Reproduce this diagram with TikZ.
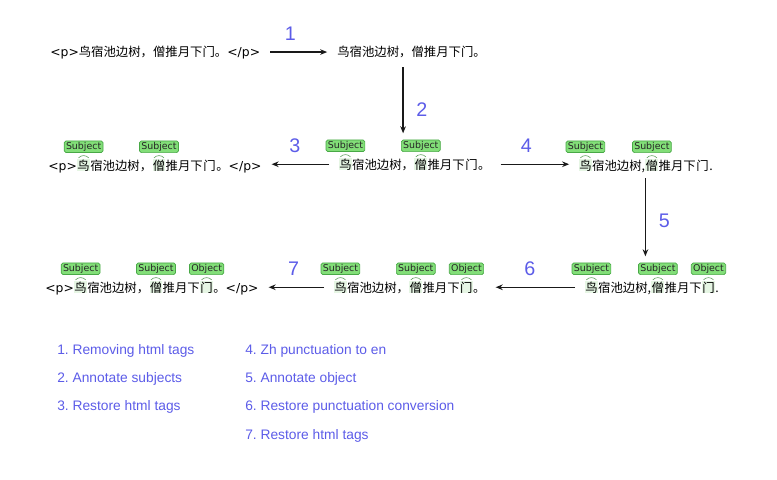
\documentclass[tikz,border=0pt]{standalone}
\usepackage{fontspec}
\setmainfont{Liberation Sans}
\newfontfamily\cjk{Noto Sans CJK SC}
\newfontfamily\lat{DejaVu Sans}
\usetikzlibrary{positioning,backgrounds,arrows.meta}
\frenchspacing

\definecolor{stepblue}{RGB}{92,92,232}
\definecolor{tagfill}{RGB}{130,222,120}
\definecolor{tagline}{RGB}{72,168,70}
\definecolor{marklight}{RGB}{230,246,228}

\tikzset{
  line/.style={inner sep=0pt, anchor=base west, font=\fontsize{8.8}{10}\cjk},
  tagbox/.style={draw=tagline, fill=tagfill, rounded corners=1.2pt, line width=0.5pt,
    inner xsep=1.3pt, inner ysep=0.9pt, text=black!85, font=\fontsize{6.7}{7}\lat},
  tagarc/.style={draw=tagline!70!gray, line width=0.4pt},
  arr/.style={-{Stealth[length=5pt,width=4pt]}, line width=1pt, black!90,
    shorten <=7pt, shorten >=7pt},
  stepnum/.style={inner sep=0pt, text=stepblue, font=\fontsize{14}{14}\selectfont},
  legend/.style={inner sep=0pt, anchor=west, text=stepblue, font=\fontsize{9.8}{12}\selectfont}
}

% one sentence, cut so that tags can sit on single characters
\newcommand\poemline[5]{%
  \node[line] (#1-a) at (#2) {#3};
  \node[line] (#1-s1) at (#1-a.base east) {鸟};
  \node[line] (#1-b) at (#1-s1.base east) {宿池边树#4};
  \node[line] (#1-s2) at (#1-b.base east) {僧};
  \node[line] (#1-c) at (#1-s2.base east) {推月下};
  \node[line] (#1-o) at (#1-c.base east) {门};
  \node[line] (#1-z) at (#1-o.base east) {#5};
}
% tag over one character
\newcommand\anno[2]{%
  \begin{pgfonlayer}{background}
    \fill[marklight] (#1.south west) rectangle (#1.north east);
  \end{pgfonlayer}
  \draw[tagarc] ([xshift=1pt,yshift=1pt]#1.north west) to[bend left=50] ([xshift=-1pt,yshift=1pt]#1.north east);
  \node[tagbox, above=4.5pt of #1] (#1-tag) {#2};
}

\begin{document}
\begin{tikzpicture}[x=0.025cm, y=-0.025cm]
  \useasboundingbox (0,0) rectangle (777,480);

  % first row
  \node[line] (a1) at (50,56) {{\lat <p>}鸟宿池边树，僧推月下门。{\lat </p>}};
  \node[line] (b1) at (337,56) {鸟宿池边树，僧推月下门。};
  \draw[arr] (a1.east) -- node[stepnum, above=8pt, xshift=-6pt] (n1) {1} (a1.east -| b1.west);

  % second row
  \poemline{a2}{48,170}{{\lat <p>}}{，}{。{\lat </p>}}
  \poemline{b2}{337,169}{}{，}{。}
  \poemline{c2}{577,170}{}{,}{.}
  \anno{a2-s1}{Subject}
  \anno{a2-s2}{Subject}
  \anno{b2-s1}{Subject}
  \anno{b2-s2}{Subject}
  \anno{c2-s1}{Subject}
  \anno{c2-s2}{Subject}

  \coordinate (t2) at ([xshift=-6pt]b1.south);
  \draw[arr, shorten >=4.5pt] (t2) -- node[stepnum, right=9pt, pos=0.64] (n2) {2} (t2 |- b2-s2-tag.north);
  \draw[arr] (b2-s1.west) -- node[stepnum, above=8pt, xshift=-4pt] (n3) {3} (b2-s1.west -| a2-z.east);
  \draw[arr] (b2-z.east |- b2-s1.west) -- node[stepnum, above=8pt, xshift=-6pt] (n4) {4} (c2-s1.west |- b2-s1.west);

  % third row
  \poemline{a3}{45,292}{{\lat <p>}}{，}{。{\lat </p>}}
  \poemline{b3}{332,292}{}{，}{。}
  \poemline{c3}{583,292}{}{,}{.}
  \anno{a3-s1}{Subject}
  \anno{a3-s2}{Subject}
  \anno{a3-o}{Object}
  \anno{b3-s1}{Subject}
  \anno{b3-s2}{Subject}
  \anno{b3-o}{Object}
  \anno{c3-s1}{Subject}
  \anno{c3-s2}{Subject}
  \anno{c3-o}{Object}

  \draw[arr, shorten <=4pt, shorten >=4.5pt] (c2-b.south east) -- node[stepnum, right=9pt, pos=0.54] (n5) {5} (c2-b.south east |- c3-s2-tag.north);
  \draw[arr] (c3-s1.west) -- node[stepnum, above=8pt, xshift=-4pt] (n6) {6} (c3-s1.west -| b3-z.east);
  \draw[arr] (b3-s1.west) -- node[stepnum, above=8pt, xshift=-2pt] (n7) {7} (b3-s1.west -| a3-z.east);

  % legend
  \node[legend] (l1) at (57,351) {1. Removing html tags};
  \node[legend] (l2) at (57,379) {2. Annotate subjects};
  \node[legend] (l3) at (57,407) {3. Restore html tags};
  \node[legend] (l4) at (245,351) {4. Zh punctuation to en};
  \node[legend] (l5) at (245,379) {5. Annotate object};
  \node[legend] (l6) at (245,407) {6. Restore punctuation conversion};
  \node[legend] (l7) at (245,436) {7. Restore html tags};
\end{tikzpicture}
\end{document}
